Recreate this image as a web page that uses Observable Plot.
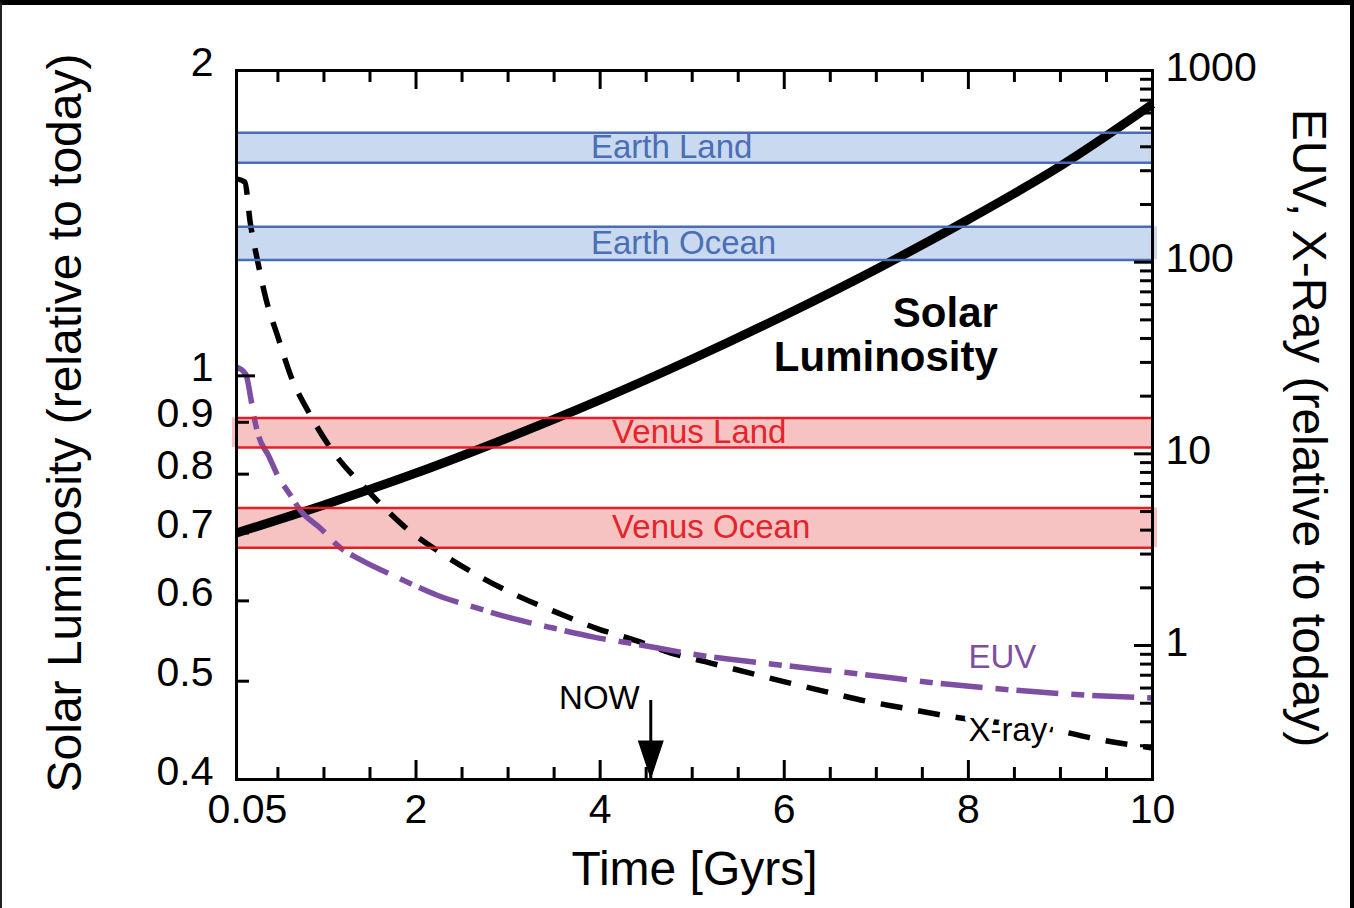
<!DOCTYPE html>
<html>
<head>
<meta charset="utf-8">
<script src="https://cdn.jsdelivr.net/npm/d3@7"></script>
<script src="https://cdn.jsdelivr.net/npm/@observablehq/plot@0.6"></script>
<style>
  html, body { margin: 0; padding: 0; background: #fff; }
  #wrap { position: relative; width: 1354px; height: 908px; overflow: hidden; }
  #edge { position: absolute; inset: 0; box-sizing: border-box; border-top: 5px solid #000;
          border-left: 2px solid #222; border-right: 4px solid #000; pointer-events: none; }
  #chart svg { display: block; }
</style>
</head>
<body>
<div id="wrap"><div id="chart"></div><div id="edge"></div></div>
<script>
// Scale domains: time in Gyr, luminosity (left axis), EUV / X-ray flux (right axis)
const timeDomain = [0.05, 10];
const lumDomain = [0.4, 2];
const rateDomain = [0.2, 1000];

// Solar luminosity relative to today
const lumTime  = [0.05, 1, 2, 3, 4, 5, 6, 7, 8, 9, 10];
const lumValue = [0.700, 0.746, 0.802, 0.869, 0.947, 1.039, 1.147, 1.274, 1.426, 1.610, 1.853];

// X-ray flux relative to today
const xrayTime  = [0.05, 0.14, 0.2, 0.28, 0.37, 0.5, 0.64, 0.84, 1.11, 1.47, 1.88, 2.27, 2.7, 3.11, 3.54,
                   3.96, 4.39, 4.77, 5.2, 5.62, 6.04, 6.46, 6.88, 7.3, 7.71, 9.04, 9.34, 10];
const xrayValue = [272, 262, 160, 101, 64.3, 40.7, 25.5, 16.3, 10.1, 6.47, 4.15, 3.04, 2.28, 1.81, 1.48,
                   1.23, 1.06, 0.914, 0.81, 0.72, 0.64, 0.573, 0.514, 0.472, 0.434, 0.354, 0.329, 0.292];

// EUV flux relative to today
const euvTime  = [0.05, 0.15, 0.21, 0.24, 0.29, 0.4, 0.5, 0.62, 0.75, 0.97, 1.18, 1.38, 1.81, 2.23,
                  2.66, 3.06, 3.5, 3.92, 4.32, 5.15, 5.97, 6.82, 7.65, 8.48, 9.28, 10];
const euvValue = [28.4, 26.1, 18.9, 15.6, 12.4, 9.75, 7.66, 6.25, 5.03, 4.06, 3.23, 2.83, 2.25, 1.83,
                  1.57, 1.38, 1.23, 1.11, 1.03, 0.88, 0.79, 0.71, 0.637, 0.586, 0.551, 0.532];

// Luminosity bands for the loss of water on Earth and Venus
const bandNames  = ["Earth Land", "Earth Ocean", "Venus Land", "Venus Ocean"];
const bandPlanet = ["Earth", "Earth", "Venus", "Venus"];
const bandLow    = [1.622, 1.301, 0.850, 0.677];
const bandHigh   = [1.736, 1.403, 0.909, 0.741];

// Axis ticks and labels
const xTickLabels     = [2, 4, 6, 8, 10];
const xFirstLabel     = 0.05;
const xMajorTicks     = [2, 4, 6, 8];
const xMinorTicks     = [0.5, 1, 1.5, 2.5, 3, 3.5, 4.5, 5, 5.5, 6.5, 7, 7.5, 8.5, 9, 9.5];
const leftTickLabels  = [2, 1, 0.9, 0.8, 0.7, 0.6, 0.5, 0.4];
const leftMajorTicks  = [1];
const leftMinorTicks  = [0.5, 0.6, 0.7, 0.8, 0.9];
const rightTickLabels = [1000, 100, 10, 1];
const rightMajorTicks = [1, 10, 100];
const rightMinorTicks = [0.3, 0.4, 0.5, 0.6, 0.7, 0.8, 0.9,
                         2, 3, 4, 5, 6, 7, 8, 9,
                         20, 30, 40, 50, 60, 70, 80, 90,
                         200, 300, 400, 500, 600, 700, 800, 900];
const nowTime = 4.55;

// Chart geometry
const width = 1354, height = 908;
const margin = {top: 70, right: 202, bottom: 129, left: 236};
const innerW = width - margin.left - margin.right;
const innerH = height - margin.top - margin.bottom;

// Colours
const blueLine = "#4a6db5", blueFill = "#c9d9ef", blueText = "#4a6fb5";
const redLine = "#e31e26", redFill = "#f7c2c2", redText = "#e3242b";
const purple = "#7e4ea3";

// The right axis is logarithmic over rateDomain and shares the plot height,
// so its values are mapped onto the luminosity scale for drawing.
const rateToLum = v => lumDomain[0] * Math.pow(lumDomain[1] / lumDomain[0],
  Math.log(v / rateDomain[0]) / Math.log(rateDomain[1] / rateDomain[0]));

const lumRows  = lumTime.map((t, i) => ({t, y: lumValue[i]}));
const xrayRows = xrayTime.map((t, i) => ({t, y: rateToLum(xrayValue[i])}));
const euvRows  = euvTime.map((t, i) => ({t, y: rateToLum(euvValue[i])}));
const bands = bandNames.map((name, i) => ({name, planet: bandPlanet[i], lo: bandLow[i], hi: bandHigh[i]}));
const bandEdges = bands.flatMap(b => [{planet: b.planet, y: b.lo}, {planet: b.planet, y: b.hi}]);

// Filled arrowhead whose tip sits at the anchor point
const arrowHead = {
  draw(context) {
    context.moveTo(0, 0);
    context.lineTo(-13, -39);
    context.lineTo(13, -39);
    context.closePath();
  }
};

const tickFont = 41;
const bandFill = d => d.planet === "Earth" ? blueFill : redFill;
const bandRect = (filter, extra) => Plot.rect(bands, {
  filter, x1: () => timeDomain[0], x2: () => timeDomain[1], y1: "lo", y2: "hi", fill: bandFill, ...extra
});

const chart = Plot.plot({
  width, height,
  marginTop: margin.top, marginRight: margin.right, marginBottom: margin.bottom, marginLeft: margin.left,
  x: {domain: timeDomain, axis: null},
  y: {type: "log", domain: lumDomain, axis: null},
  style: {fontFamily: "'Liberation Sans', Arial, Helvetica, sans-serif", background: "white", color: "black"},
  marks: [
    // band fills (the ocean fills run a little past the right frame, Venus Land past the left)
    bandRect(d => d.name === "Earth Land", {}),
    bandRect(d => d.name === "Venus Land", {insetLeft: -4}),
    bandRect(d => d.name.endsWith("Ocean"), {insetRight: -5}),
    // curves
    Plot.line(lumRows, {x: "t", y: "y", stroke: "black", strokeWidth: 9, strokeLinecap: "butt",
      curve: "monotone-x"}),
    Plot.line(xrayRows, {x: "t", y: "y", stroke: "black", strokeWidth: 5.5, strokeDasharray: "22,16",
      strokeLinecap: "butt", curve: "monotone-x"}),
    Plot.line(euvRows, {x: "t", y: "y", stroke: purple, strokeWidth: 5.5, strokeDasharray: "42,13,13,8",
      strokeLinecap: "butt", curve: "monotone-x"}),
    // band edges
    Plot.ruleY(bandEdges, {y: "y", stroke: d => d.planet === "Earth" ? blueLine : redLine, strokeWidth: 2.5}),
    // band labels
    Plot.text(bands, {
      x: d => d.planet === "Earth" ? 3.9 : 4.13,
      y: d => Math.sqrt(d.lo * d.hi),
      text: "name", textAnchor: "start", fontSize: 33,
      fill: d => d.planet === "Earth" ? blueText : redText
    }),
    // frame
    Plot.frame({stroke: "black", strokeWidth: 3}),
    // bottom and top ticks (inward)
    Plot.tickX(xMinorTicks, {x: d => d, insetTop: innerH - 12, stroke: "black", strokeWidth: 3}),
    Plot.tickX(xMajorTicks, {x: d => d, insetTop: innerH - 19, stroke: "black", strokeWidth: 3}),
    Plot.tickX(xMinorTicks, {x: d => d, insetBottom: innerH - 12, stroke: "black", strokeWidth: 3}),
    Plot.tickX(xMajorTicks, {x: d => d, insetBottom: innerH - 19, stroke: "black", strokeWidth: 3}),
    // left ticks (inward)
    Plot.tickY(leftMinorTicks, {y: d => d, insetRight: innerW - 13, stroke: "black", strokeWidth: 3}),
    Plot.tickY(leftMajorTicks, {y: d => d, insetRight: innerW - 19, stroke: "black", strokeWidth: 3}),
    // right ticks (inward)
    Plot.tickY(rightMinorTicks, {y: d => rateToLum(d), insetLeft: innerW - 12, stroke: "black", strokeWidth: 3}),
    Plot.tickY(rightMajorTicks, {y: d => rateToLum(d), insetLeft: innerW - 18, stroke: "black", strokeWidth: 3}),
    // tick labels
    Plot.text(xTickLabels, {x: d => d, frameAnchor: "bottom", lineAnchor: "top", dy: 14,
      text: d => String(d), fontSize: tickFont}),
    Plot.text([xFirstLabel], {x: d => d, frameAnchor: "bottom", lineAnchor: "top", dy: 14, dx: 11,
      text: d => String(d), fontSize: tickFont}),
    Plot.text(leftTickLabels, {y: d => d, frameAnchor: "left", textAnchor: "end", dx: -23, dy: -8,
      text: d => String(d), fontSize: tickFont}),
    Plot.text(rightTickLabels, {y: d => rateToLum(d), frameAnchor: "right", textAnchor: "start", dx: 13, dy: -3,
      text: d => String(d), fontSize: tickFont}),
    // axis titles
    Plot.text(["Time [Gyrs]"], {frameAnchor: "bottom", textAnchor: "middle", lineAnchor: "bottom", dy: 105,
      text: d => d, fontSize: 48}),
    Plot.text(["Solar Luminosity (relative to today)"], {frameAnchor: "left", textAnchor: "middle",
      lineAnchor: "middle", rotate: -90, dx: -171, dy: -2, text: d => d, fontSize: 48}),
    Plot.text(["EUV, X-Ray (relative to today)"], {frameAnchor: "right", textAnchor: "middle",
      lineAnchor: "middle", rotate: 90, dx: 156, dy: 3, text: d => d, fontSize: 48}),
    // curve labels
    Plot.text(["Solar\nLuminosity"], {x: 8.32, y: 1.01, text: d => d, textAnchor: "end", lineAnchor: "bottom",
      lineHeight: 1.05, fontSize: 42, fontWeight: "bold"}),
    Plot.text(["EUV"], {x: 8.0, y: 0.515, text: d => d, textAnchor: "start", lineAnchor: "bottom",
      fontSize: 33, fill: purple}),
    Plot.text(["X-ray"], {x: 8.0, y: 0.437, text: d => d, textAnchor: "start", lineAnchor: "bottom",
      fontSize: 33, fill: "black", stroke: "white", strokeWidth: 10}),
    // "now" marker
    Plot.tickX([nowTime], {x: d => d, insetTop: innerH - 79, stroke: "black", strokeWidth: 3}),
    Plot.dot([nowTime], {x: d => d, frameAnchor: "bottom", symbol: arrowHead, fill: "black"}),
    Plot.text(["NOW"], {x: nowTime, y: 0.4697, text: d => d, textAnchor: "end", lineAnchor: "bottom",
      dx: -11, fontSize: 33})
  ]
});

document.getElementById("chart").append(chart);
</script>
</body>
</html>
